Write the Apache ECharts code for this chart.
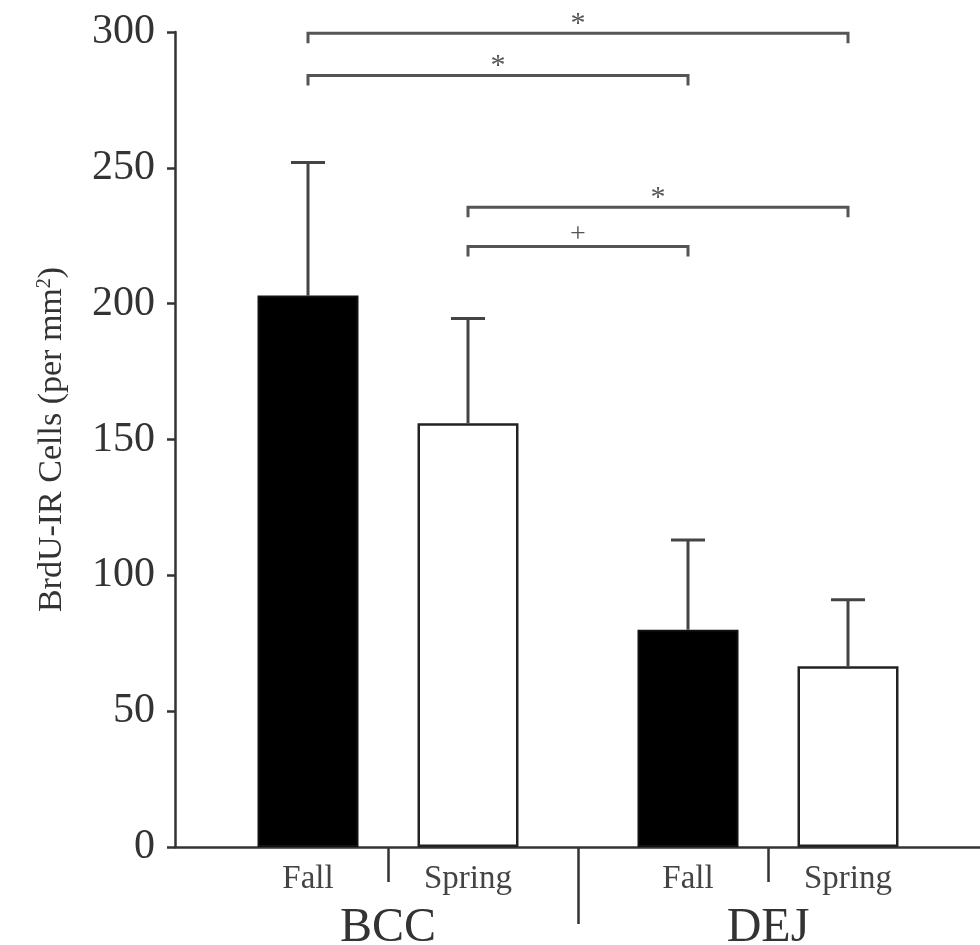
<!DOCTYPE html>
<html>
<head>
<meta charset="utf-8">
<script src="https://cdn.jsdelivr.net/npm/echarts@6/dist/echarts.min.js"></script>
<style>
    html, body { margin: 0; padding: 0; background: #fff; }
    #chart { width: 980px; height: 945px; }
</style>
</head>
<body>
<div id="chart"></div>
<script>
const groups = ["BCC", "DEJ"];
const seasons = ["Fall", "Spring"];
// mean and SEM per group, [Fall, Spring]
const means = [[203, 156], [80, 66.5]];
const sem = [[49, 38.5], [33, 24.5]];
// significance brackets: bar index from / to, bracket height, mark
const compareFrom = [0, 0, 1, 1];
const compareTo = [3, 2, 3, 2];
const compareLevel = [299.5, 284, 235.5, 221];
const compareMark = ["*", "*", "*", "+"];
const yTicks = [0, 50, 100, 150, 200, 250, 300];

const FONT = "Liberation Serif";
const groupStep = 2.375; // extra space between BCC and DEJ

const barPos = [];
const barData = [];
const errData = [];
groups.forEach(function (g, gi) {
    seasons.forEach(function (s, si) {
        const x = gi * groupStep + si;
        barPos.push(x);
        barData.push({
            value: [x, means[gi][si]],
            itemStyle: si === 0
                ? { color: "#000", borderColor: "#111", borderWidth: 2 }
                : { color: "#fff", borderColor: "#222", borderWidth: 2.5 }
        });
        errData.push([x, means[gi][si], means[gi][si] + sem[gi][si]]);
    });
});

const labelPos = barPos.slice();
const seasonTickPos = [0.5, groupStep + 0.5];
const groupCenter = [0.5, groupStep + 0.5];
const groupSepPos = [(1 + groupStep) / 2];

const bracketData = compareFrom.map(function (f, i) {
    return [barPos[f], barPos[compareTo[i]], compareLevel[i]];
});

const chart = echarts.init(document.getElementById("chart"));

chart.setOption({
    animation: false,
    backgroundColor: "#fff",
    grid: { left: 175, right: 0, top: 32, bottom: 98, containLabel: false, outerBoundsMode: "none" },
    xAxis: [
        {
            type: "value",
            min: -0.83125,
            max: 4.2,
            splitLine: { show: false },
            axisLine: { show: true, onZero: false, lineStyle: { color: "#333", width: 2.5 } },
            axisTick: {
                show: true,
                customValues: seasonTickPos,
                length: 35,
                lineStyle: { color: "#333", width: 2.5 }
            },
            axisLabel: {
                customValues: labelPos,
                margin: 16,
                fontFamily: FONT,
                fontSize: 33,
                color: "#444",
                formatter: function (v) {
                    const i = labelPos.findIndex(function (p) { return Math.abs(p - v) < 1e-6; });
                    return i < 0 ? "" : seasons[i % 2];
                }
            }
        },
        {
            type: "value",
            position: "bottom",
            min: -0.83125,
            max: 4.2,
            splitLine: { show: false },
            axisLine: { show: false, onZero: false },
            axisTick: {
                show: true,
                customValues: groupSepPos,
                length: 77,
                lineStyle: { color: "#333", width: 2.5 }
            },
            axisLabel: {
                customValues: groupCenter,
                margin: 57,
                fontFamily: FONT,
                fontSize: 48,
                color: "#333",
                formatter: function (v) {
                    const i = groupCenter.findIndex(function (p) { return Math.abs(p - v) < 1e-6; });
                    return i < 0 ? "" : groups[i];
                }
            }
        }
    ],
    yAxis: {
        type: "value",
        min: 0,
        max: 300,
        interval: 50,
        splitLine: { show: false },
        axisLine: { show: true, onZero: false, lineStyle: { color: "#333", width: 2.5 } },
        axisTick: { show: true, length: 8, lineStyle: { color: "#333", width: 2.5 } },
        axisLabel: {
            margin: 20,
            fontFamily: FONT,
            fontSize: 42,
            color: "#333",
            customValues: yTicks
        },
        name: "BrdU-IR Cells (per mm{sup|2})",
        nameLocation: "middle",
        nameGap: 106,
        nameTextStyle: {
            fontFamily: FONT,
            fontSize: 34,
            color: "#333",
            rich: {
                sup: { fontFamily: FONT, fontSize: 20, color: "#333", verticalAlign: "top", padding: [0, 0, 14, 0] }
            }
        }
    },
    series: [
        {
            type: "bar",
            xAxisIndex: 0,
            barWidth: 101,
            data: barData,
            z: 2
        },
        {
            type: "custom",
            xAxisIndex: 0,
            clip: false,
            z: 1,
            encode: { x: 0, y: [1, 2] },
            data: errData,
            renderItem: function (params, api) {
                const base = api.coord([api.value(0), api.value(1)]);
                const top = api.coord([api.value(0), api.value(2)]);
                const style = { stroke: "#444", lineWidth: 3 };
                return {
                    type: "group",
                    children: [
                        { type: "line", shape: { x1: base[0], y1: base[1], x2: top[0], y2: top[1] }, style: style },
                        { type: "line", shape: { x1: top[0] - 17, y1: top[1], x2: top[0] + 17, y2: top[1] }, style: style }
                    ]
                };
            }
        },
        {
            type: "custom",
            xAxisIndex: 0,
            clip: false,
            encode: { x: [0, 1], y: 2 },
            data: bracketData,
            renderItem: function (params, api) {
                const a = api.coord([api.value(0), api.value(2)]);
                const b = api.coord([api.value(1), api.value(2)]);
                const style = { stroke: "#555", lineWidth: 3, fill: null };
                const mark = compareMark[params.dataIndex];
                return {
                    type: "group",
                    children: [
                        {
                            type: "polyline",
                            shape: { points: [[a[0], a[1] + 10], [a[0], a[1]], [b[0], b[1]], [b[0], b[1] + 10]] },
                            style: style
                        },
                        {
                            type: "text",
                            style: {
                                text: mark,
                                x: (a[0] + b[0]) / 2,
                                y: a[1] - (mark === "+" ? 12 : 9),
                                align: "center",
                                verticalAlign: "middle",
                                fontFamily: FONT,
                                fontSize: mark === "+" ? 28 : 30,
                                fill: "#555"
                            }
                        }
                    ]
                };
            }
        }
    ]
});
</script>
</body>
</html>
